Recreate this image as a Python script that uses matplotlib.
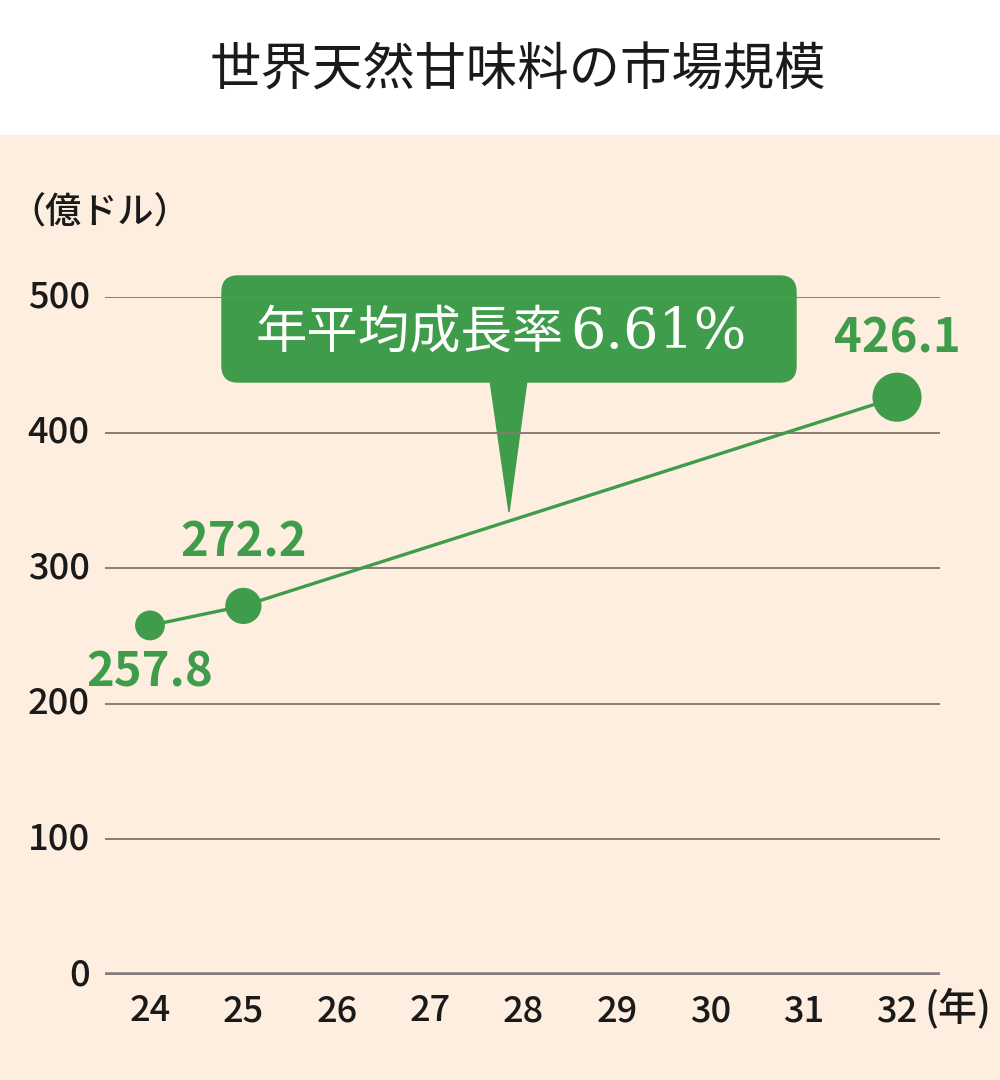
import matplotlib.pyplot as plt
from matplotlib.patches import FancyBboxPatch, Polygon, Rectangle

plt.rcParams['font.family'] = ['Noto Sans CJK JP', 'DejaVu Sans']

# data
years = [24, 25, 32]
market = [257.8, 272.2, 426.1]
year_ticks = [24, 25, 26, 27, 28, 29, 30, 31, 32]
value_ticks = [0, 100, 200, 300, 400, 500]
title = '世界天然甘味料の市場規模'
unit_label = '（億ドル）'
year_unit = '(年)'
callout_jp = '年平均成長率'
callout_num = '6.61%'

# styles
green = '#3f9c4b'
peach = '#fdeee0'
grid_col = '#8a7b72'
ink = '#1a1a1a'
marker_sizes = [460, 680, 1250]
label_offsets = [(0, -34), (0, 46), (0, 42)]

fig = plt.figure(figsize=(10, 10.8), dpi=100)
fig.patch.set_facecolor('white')

# overlay in pixel coords for background + decoration
bg = fig.add_axes([0, 0, 1, 1])
bg.set_xlim(0, 1000)
bg.set_ylim(1080, 0)
bg.axis('off')
bg.add_patch(Rectangle((0, 135), 1000, 945, color=peach, zorder=0))
bg.text(518, 71, title, ha='center', va='center', fontsize=37, color=ink)
bg.text(9, 213, unit_label, ha='left', va='center', fontsize=26,
        fontweight='medium', color=ink)

ax = fig.add_axes([0.105, 1 - 975 / 1080, 0.835, (975 - 297) / 1080])
ax.patch.set_alpha(0)
ax.set_xlim(24 - 45 / 93.4, 32 + 43 / 93.4)
ax.set_ylim(0, 500)
for s in ax.spines.values():
    s.set_visible(False)

for v in value_ticks[1:]:
    ax.axhline(v, color=grid_col, lw=1.4, zorder=1)
ax.axhline(0, color='#857a7e', lw=4, zorder=1)

ax.set_yticks(value_ticks)
ax.set_yticklabels([str(v) for v in value_ticks], fontsize=26,
                   fontweight='medium')
ax.set_xticks(year_ticks)
ax.set_xticklabels([str(y) for y in year_ticks], fontsize=26,
                   fontweight='medium')
ax.tick_params(axis='both', length=0, colors=ink)
ax.tick_params(axis='y', pad=11)
ax.tick_params(axis='x', pad=13)
for lbl in ax.get_yticklabels():
    lbl.set_verticalalignment('center')

ax.plot(years, market, color=green, lw=2.4, zorder=3, clip_on=False)
ax.scatter(years, market, s=marker_sizes, color=green, zorder=4, clip_on=False,
           linewidths=0)
for x, y, off in zip(years, market, label_offsets):
    ax.annotate(f'{y:.1f}', (x, y), xytext=off, textcoords='offset points',
                ha='center', va='center', fontsize=34, fontweight='bold',
                color=green, annotation_clip=False)

bg.text(925, 1009, year_unit, ha='left', va='center', fontsize=28,
        fontweight='medium', color=ink)

# callout bubble
bg.add_patch(FancyBboxPatch((222, 276), 574, 106,
                            boxstyle='round,pad=0,rounding_size=16',
                            color=green, zorder=5))
bg.add_patch(Polygon([(490, 380), (527, 380), (509, 512)], closed=True,
                     color=green, zorder=5))
bg.text(256, 348, callout_jp, ha='left', va='baseline', fontsize=37,
        color='white', zorder=6)
bg.text(570, 348, callout_num, ha='left', va='baseline', fontsize=40,
        family=['DejaVu Serif'], color='white', zorder=6)

fig.savefig('out.png', dpi=100, facecolor=fig.get_facecolor())
